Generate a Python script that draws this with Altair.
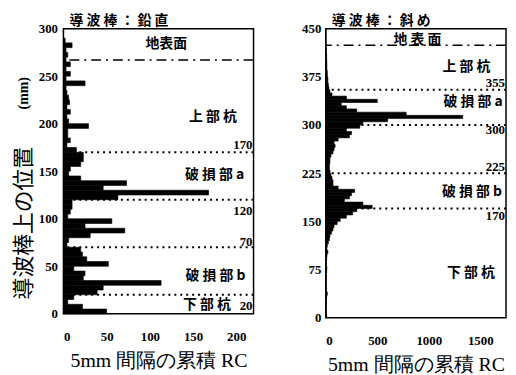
import altair as alt
import pandas as pd

# ---------------- data ----------------
left_rc = [50, 22, 5, 12, 39, 46, 113, 23, 25, 12,
           52, 27, 22, 20, 4, 6, 31, 71, 25, 56,
           5, 8, 10, 10, 63, 168, 46, 73, 20, 6,
           8, 20, 23, 23, 15, 4, 8, 5, 5, 29,
           6, 4, 8, 4, 7, 6, 4, 3, 25, 3,
           8, 3, 8, 3, 5, 3, 10, 2, 0, 0]
right_rc = [8, 5, 6, 4, 6, 5, 8, 15, 6, 5,
            4, 6, 5, 4, 8, 10, 6, 5, 8, 12,
            20, 10, 15, 25, 35, 40, 55, 70, 80, 110,
            140, 200, 260, 300, 450, 360, 180, 230, 250, 280,
            120, 70, 70, 60, 50, 40, 35, 35, 40, 40,
            50, 70, 80, 90, 80, 120, 230, 250, 200, 330,
            360, 600, 1330, 780, 300, 200, 150, 500, 200, 60,
            40, 30, 25, 20, 20, 15, 15, 10, 10, 10,
            8, 8, 5, 5, 3, 0, 0, 0, 0, 0]
bin_mm = 5

left_bounds = [170, 120, 70, 20]
left_bound_labels = ["170", "120", "70", "20"]
left_bound_label_y = [178, 108, 76, 8]
left_ground = [267]
left_sections = ["地表面", "上 部 杭", "破 損 部 a", "破 損 部 b", "下 部 杭"]
left_section_x = [119, 173, 175, 176, 166]
left_section_y = [284, 207, 146, 40, 9]

right_bounds = [355, 300, 225, 170]
right_bound_labels = ["355", "300", "225", "170"]
right_bound_label_y = [365, 292, 235, 158]
right_ground = [424]
right_sections = ["地 表 面", "上 部 杭", "破 損 部 a", "破 損 部 b", "下 部 杭"]
right_section_x = [890, 1365, 1430, 1420, 1410]
right_section_y = [432, 391, 335, 196, 70]

left_xticks = [0, 50, 100, 150, 200]
left_yticks = [0, 50, 100, 150, 200, 250, 300]
right_xticks = [0, 500, 1000, 1500]
right_yticks = [0, 75, 150, 225, 300, 375, 450]

NUM_FONT = "Liberation Serif"
CJK_FONT = "Noto Sans CJK JP"
XTITLE = "5mm 間隔の累積 RC"


def panel(rc, xmax, ymax, xticks, yticks, bounds, blabels, blabel_y, ground,
          sections, sx, sy, title, w, h, ytitle):
    bars_df = pd.DataFrame({
        "lo": [i * bin_mm for i in range(len(rc))],
        "hi": [(i + 1) * bin_mm for i in range(len(rc))],
        "rc": rc,
    })
    xs = alt.Scale(domain=[0, xmax], nice=False)
    ys = alt.Scale(domain=[0, ymax], nice=False)
    if ytitle:
        yaxis = alt.Axis(values=yticks, format="d", title=ytitle, labelPadding=6,
                         titleFont=CJK_FONT, titleFontSize=22, titleFontWeight="normal",
                         titleX=-40, titleY=196, titleAngle=270,
                         titleAlign="center", titleBaseline="middle")
    else:
        yaxis = alt.Axis(values=yticks, format="d", title=None, labelPadding=5)
    bars = alt.Chart(bars_df).mark_rect(color="black", stroke="black", strokeWidth=0.6).encode(
        x=alt.X("rc:Q", scale=xs, axis=alt.Axis(values=xticks, format="d", title=XTITLE,
                                               labelPadding=17, titlePadding=7)),
        x2=alt.datum(0),
        y=alt.Y("lo:Q", scale=ys, axis=yaxis),
        y2="hi:Q",
    )
    rules = alt.Chart(pd.DataFrame({"y": bounds})).mark_rule(
        color="black", strokeWidth=2, strokeDash=[2, 4]
    ).encode(y="y:Q")
    ground_rule = alt.Chart(pd.DataFrame({"y": ground})).mark_rule(
        color="black", strokeWidth=1.5, strokeDash=[10, 5, 2, 5]
    ).encode(y="y:Q")
    blab = alt.Chart(pd.DataFrame({"t": blabels, "y": blabel_y, "x": [xmax] * len(blabels)})).mark_text(
        align="right", baseline="middle", font=NUM_FONT, fontWeight="bold", fontSize=13, dx=-1
    ).encode(x="x:Q", y="y:Q", text="t:N")
    sec = alt.Chart(pd.DataFrame({"t": sections, "x": sx, "y": sy})).mark_text(
        align="center", baseline="middle", font=CJK_FONT, fontWeight="bold", fontSize=14
    ).encode(x="x:Q", y="y:Q", text="t:N")
    layers = [rules, ground_rule, bars, blab, sec]
    if ytitle:
        mm = alt.Chart(pd.DataFrame({"t": ["(mm)"]})).mark_text(
            angle=270, font=NUM_FONT, fontWeight="bold", fontSize=14,
            align="center", baseline="middle"
        ).encode(x=alt.value(-40), y=alt.datum(232), text="t:N")
        layers.append(mm)
    return alt.layer(*layers).properties(
        width=w, height=h,
        title=alt.TitleParams(title, anchor="start", font=CJK_FONT, fontSize=14,
                              fontWeight="bold", offset=-5, dx=6, frame="group"),
    )


left = panel(left_rc, 220, 300, left_xticks, left_yticks, left_bounds, left_bound_labels,
             left_bound_label_y, left_ground, left_sections, left_section_x, left_section_y,
             "導 波 棒 ： 鉛 直", 192, 288, "導波棒上の位置")
right = panel(right_rc, 1750, 450, right_xticks, right_yticks, right_bounds, right_bound_labels,
              right_bound_label_y, right_ground, right_sections, right_section_x, right_section_y,
              "導 波 棒 ： 斜 め", 182, 292, None)

chart = alt.hconcat(left, right, spacing=45).properties(
    padding={"left": 4, "top": 3, "right": 0, "bottom": 0}
).configure_view(
    stroke="black", strokeWidth=1.5
).configure_axis(
    domain=False, ticks=False, grid=False,
    labelFont=NUM_FONT, labelFontWeight="bold", labelFontSize=13, labelColor="black",
    titleFont=NUM_FONT, titleFontWeight="normal", titleFontSize=20, titleColor="black",
).configure_title(color="black")

chart.save("out.html", embed_options={"renderer": "svg", "actions": False})
